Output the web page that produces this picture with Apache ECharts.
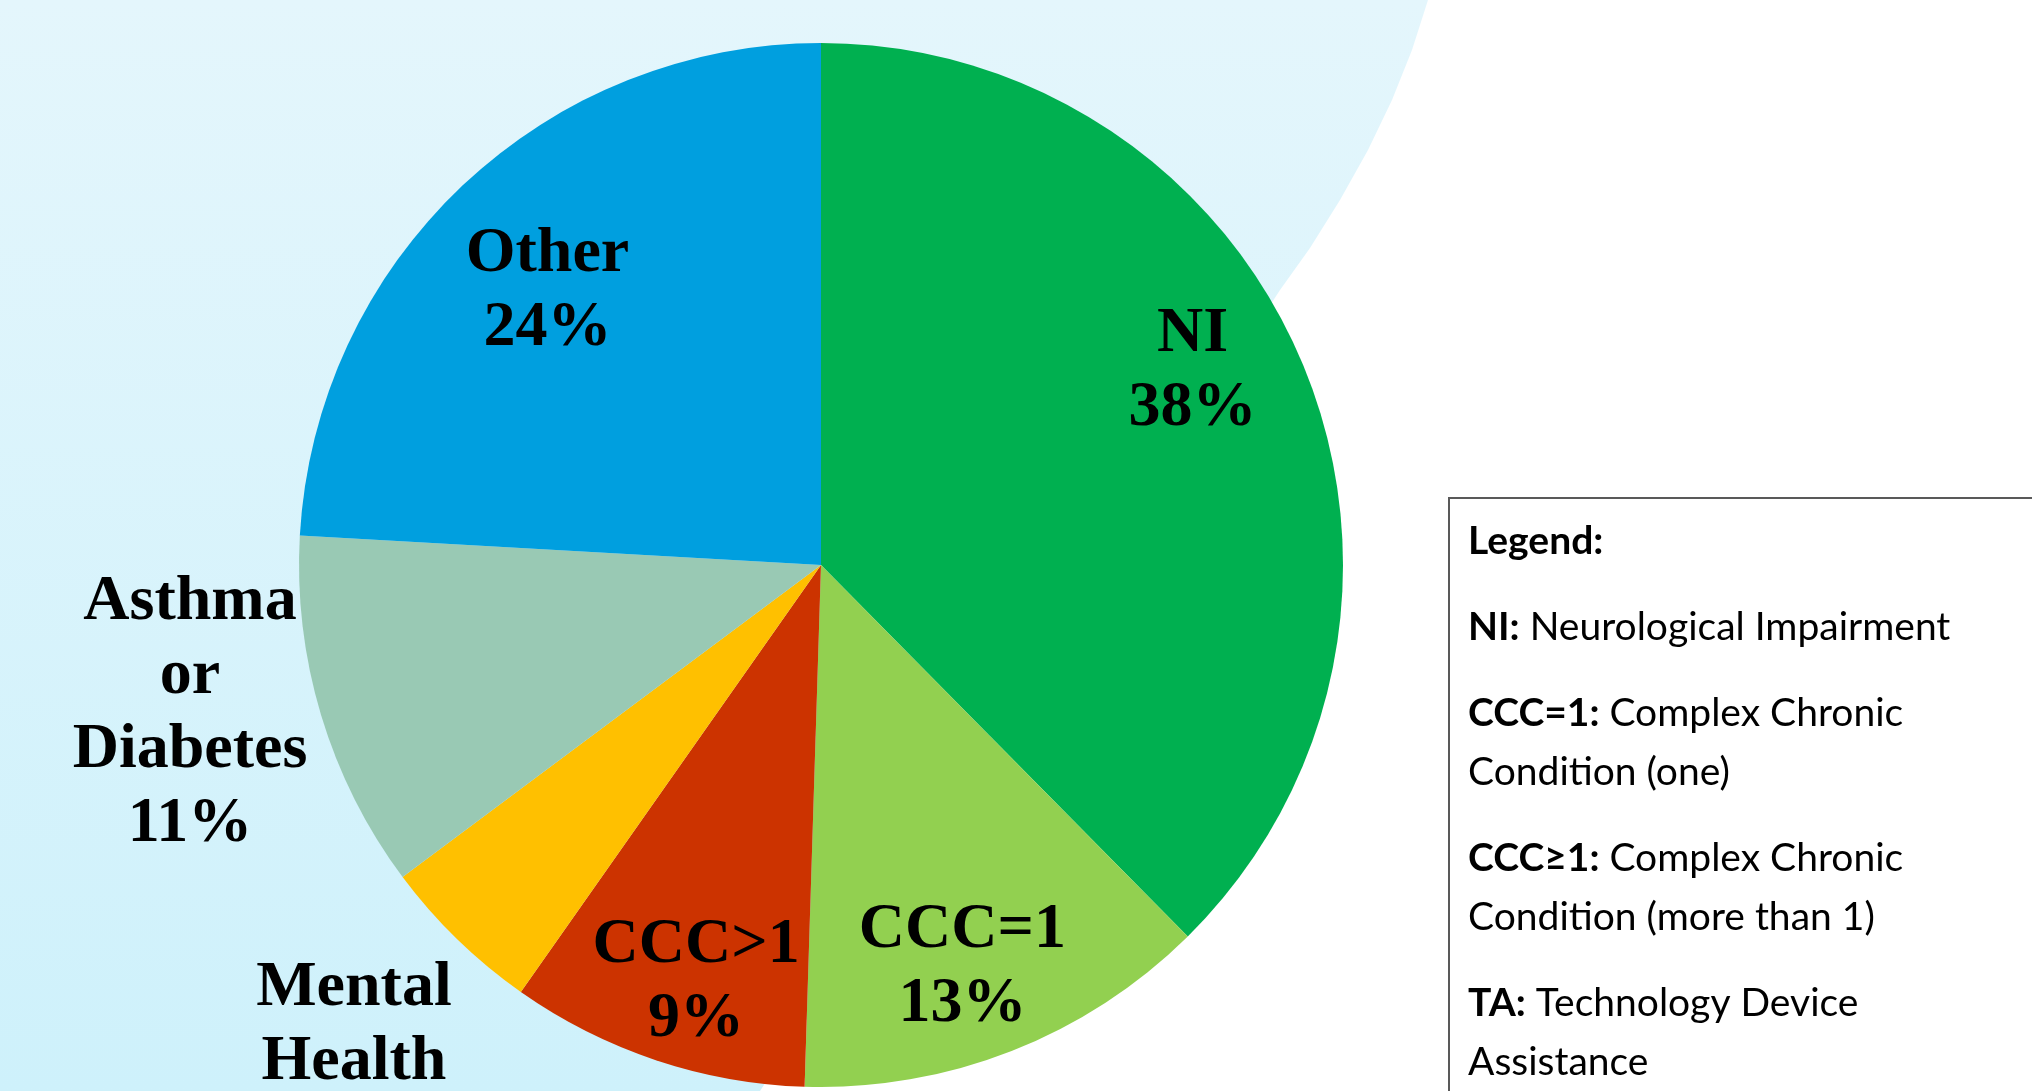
<!DOCTYPE html>
<html>
<head>
<meta charset="utf-8">
<script src="https://cdn.jsdelivr.net/npm/echarts@6/dist/echarts.min.js"></script>
<style>
html,body{margin:0;padding:0;background:#ffffff;}
#chart{width:2032px;height:1091px;}
</style>
</head>
<body>
<div id="chart"></div>
<script>
// ---- data (shares; labels show rounded percentages) ----
const categories = ['NI', 'CCC=1', 'CCC>1', 'Mental Health', 'Asthma or Diabetes', 'Other'];
const shares = [37.6, 12.9, 9.25, 5.05, 11.1, 24.1];
const outsideLabelled = ['Mental Health', 'Asthma or Diabetes'];
const legendTitle = 'Legend:';
const legendTerms = ['NI:', 'CCC=1:', 'CCC\u22651:', 'TA:'];
const legendDefinitions = [
  ['Neurological Impairment'],
  ['Complex Chronic', 'Condition (one)'],
  ['Complex Chronic', 'Condition (more than 1)'],
  ['Technology Device', 'Assistance']
];

// ---- styles ----
const palette = ['#00B050', '#92D050', '#CC3300', '#FFC000', '#99C9B4', '#009FDF'];
const labelNudge = {
  'NI': [-17, -34], 'CCC=1': [-12, 11], 'CCC>1': [8, 19], 'Other': [15, 32],
  'Asthma or Diabetes': [1, -42], 'Mental Health': [-7, 24]
};
const CX = 821, CY = 565, R = 522;
const labelStyle = {
  fontFamily: '"Liberation Serif", "Times New Roman", serif',
  fontWeight: 'bold', fontSize: 64, lineHeight: 74, color: '#000'
};
const labelText = p => p.name.replace(/ /g, '\n') + '\n' + Math.round(p.value) + '%';

function helperData(show) {
  return categories.map((name, i) => ({
    name, value: shares[i],
    label: { show: show(name), offset: labelNudge[name] }
  }));
}

const chart = echarts.init(document.getElementById('chart'), null, { renderer: 'canvas', width: 2032, height: 1091 });

// legend graphics
const LFS = 39;
const legendFont = 'Lato, "Open Sans", sans-serif';
const legendEls = [];
legendEls.push({
  type: 'rect', z: 50,
  shape: { x: 1449, y: 498, width: 700, height: 700 },
  style: { fill: '#ffffff', stroke: '#595959', lineWidth: 2 }
});
function legendLine(text, baseline) {
  legendEls.push({
    type: 'text', z: 51,
    style: {
      text: text, x: 1468, y: baseline - 11,
      fill: '#000', fontFamily: legendFont, fontSize: LFS, fontWeight: 'normal',
      verticalAlign: 'middle', align: 'left',
      rich: { b: { fill: '#000', fontFamily: legendFont, fontSize: LFS, fontWeight: 'bold' } }
    }
  });
}
let base = 552;
legendLine('{b|' + legendTitle + '}', base);
legendTerms.forEach((term, i) => {
  base += 86;
  legendLine('{b|' + term + '} ' + legendDefinitions[i][0], base);
  for (let k = 1; k < legendDefinitions[i].length; k++) {
    base += 59;
    legendLine(legendDefinitions[i][k], base);
  }
});

const option = {
  animation: false,
  backgroundColor: '#ffffff',
  graphic: {
    elements: [
      {
        type: 'polygon', z: -10, silent: true,
        shape: { points: [[0, 0], [1428, 0], [1412, 50], [1392, 100], [1368, 150], [1340, 200], [1310, 248], [1280, 290], [760, 1091], [0, 1091]] },
        style: {
          fill: new echarts.graphic.LinearGradient(0, 0, 0, 1, [
            { offset: 0, color: '#E4F6FC' }, { offset: 1, color: '#CEF1FB' }
          ])
        }
      }
    ].concat(legendEls)
  },
  series: [
    {
      type: 'pie', silent: true, z: 2,
      center: [CX, CY], radius: R, startAngle: 90, clockwise: true,
      label: { show: false }, labelLine: { show: false },
      itemStyle: { borderWidth: 0 },
      data: categories.map((name, i) => ({ name, value: shares[i], itemStyle: { color: palette[i] } }))
    },
    {
      type: 'pie', silent: true, z: 3,
      center: [CX, CY], radius: [318, 516], startAngle: 90, clockwise: true,
      itemStyle: { color: 'rgba(0,0,0,0)', borderWidth: 0 },
      labelLine: { show: false },
      label: Object.assign({ position: 'inside', formatter: labelText, rotate: 0 }, labelStyle),
      data: helperData(n => outsideLabelled.indexOf(n) < 0)
    },
    {
      type: 'pie', silent: true, z: 3,
      center: [CX, CY], radius: [560, 754], startAngle: 90, clockwise: true,
      itemStyle: { color: 'rgba(0,0,0,0)', borderWidth: 0 },
      labelLine: { show: false },
      label: Object.assign({ position: 'inside', formatter: labelText, rotate: 0 }, labelStyle),
      data: helperData(n => outsideLabelled.indexOf(n) >= 0)
    }
  ]
};
chart.setOption(option);
</script>
</body>
</html>
